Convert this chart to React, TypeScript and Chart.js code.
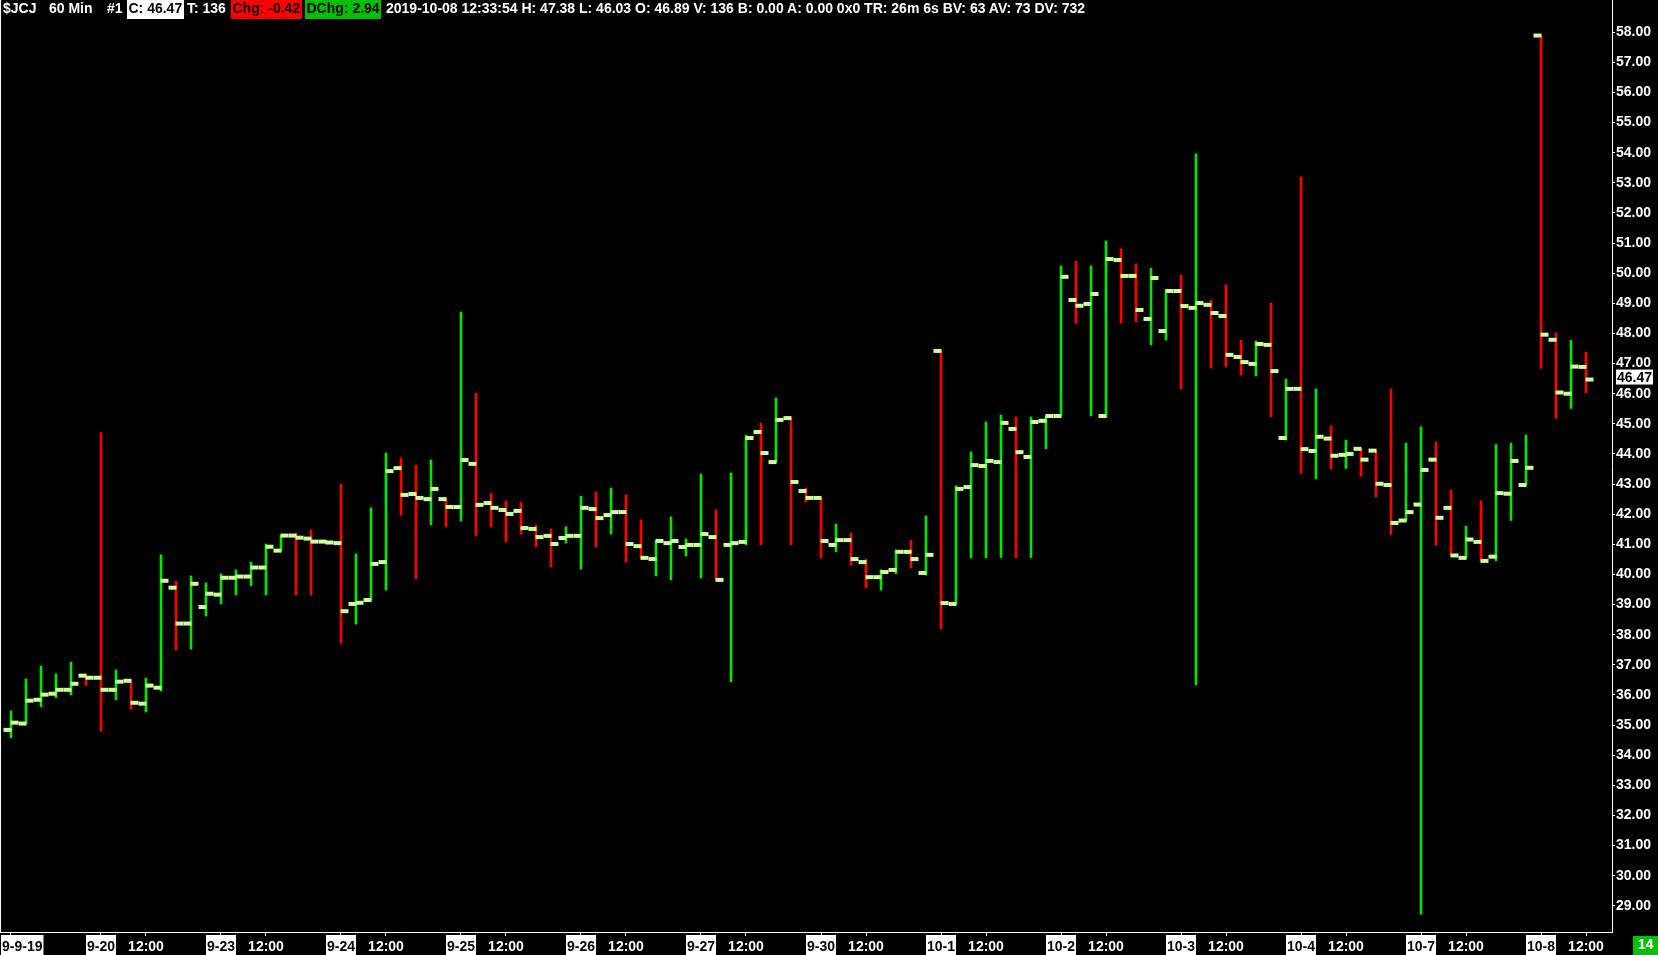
import React, { useEffect, useRef } from 'react';
import { Chart, registerables } from 'chart.js';

Chart.register(...registerables);

// ---- Data (60-min OHLC bars, $JCJ) ----
const opens = [
  34.84, 35.05, 35.84, 36.04, 36.17, 36.64, 36.57, 36.17, 36.47, 35.71,
  36.24, 39.56, 38.37, 38.92, 39.33, 39.89, 39.93, 40.23, 40.79, 41.29,
  41.19, 41.09, 41.04, 39.02, 39.15, 40.41, 43.53, 42.67, 42.50, 42.50,
  42.24, 43.67, 42.37, 42.14, 42.11, 41.51, 41.28, 41.21, 41.28, 42.17,
  41.97, 42.07, 40.94, 40.51, 41.04, 40.91, 40.98, 41.24, 40.98, 41.08,
  44.73, 43.73, 45.19, 42.77, 42.54, 40.98, 41.14, 40.41, 39.91, 40.15,
  40.75, 40.05, 47.42, 39.02, 42.90, 43.60, 43.73, 44.83, 43.90, 45.10,
  45.26, 49.11, 48.98, 45.26, 50.44, 49.91, 48.48, 48.08, 49.41, 48.85,
  48.95, 48.58, 47.22, 46.99, 47.62, 44.53, 46.16, 44.10, 44.51, 43.97,
  44.17, 44.11, 42.97, 41.79, 42.32, 43.81, 42.21, 40.55, 41.08, 40.59,
  42.68, 42.97, 57.89, 47.79, 46.00, 46.89,
];
const highs = [
  35.47, 36.53, 36.96, 36.70, 37.09, 36.64, 44.71, 36.83, 36.47, 36.56,
  40.65, 39.78, 39.95, 39.72, 40.02, 40.15, 40.41, 41.01, 41.29, 41.37,
  41.48, 41.11, 43.00, 40.68, 42.21, 44.03, 43.87, 43.63, 43.80, 42.50,
  48.71, 46.02, 42.70, 42.44, 42.40, 41.64, 41.51, 41.58, 42.60, 42.74,
  42.87, 42.64, 41.81, 41.11, 41.91, 41.18, 43.33, 42.14, 43.37, 44.63,
  45.03, 45.86, 45.19, 42.87, 42.54, 41.67, 41.38, 40.51, 40.15, 40.81,
  41.14, 41.94, 47.42, 42.94, 44.07, 45.06, 45.29, 45.23, 45.23, 45.26,
  50.24, 50.41, 50.24, 51.07, 50.81, 50.31, 50.17, 49.44, 49.94, 53.96,
  49.11, 49.61, 47.78, 47.75, 49.01, 46.49, 53.20, 46.16, 44.93, 44.46,
  44.17, 44.11, 46.15, 44.36, 44.90, 44.40, 42.80, 41.60, 42.44, 44.31,
  44.36, 44.63, 57.89, 48.02, 47.77, 47.38,
];
const lows = [
  34.58, 35.04, 35.61, 35.91, 36.00, 36.31, 34.80, 35.84, 35.53, 35.43,
  36.13, 37.49, 37.52, 38.62, 39.02, 39.32, 39.63, 39.32, 40.79, 39.32,
  39.32, 41.04, 37.72, 38.35, 39.15, 39.48, 41.97, 39.85, 41.64, 41.58,
  41.77, 41.28, 41.58, 41.08, 41.34, 40.91, 40.25, 41.04, 40.18, 40.91,
  41.34, 40.41, 40.55, 39.95, 39.82, 40.61, 39.88, 39.82, 36.44, 40.98,
  40.98, 43.73, 40.98, 42.41, 40.55, 40.75, 40.31, 39.55, 39.48, 40.02,
  40.22, 39.98, 38.19, 39.02, 40.55, 40.55, 40.56, 40.56, 40.56, 44.17,
  45.26, 48.33, 45.26, 45.21, 48.35, 48.38, 47.62, 47.78, 46.16, 36.33,
  46.85, 46.89, 46.62, 46.59, 45.23, 44.46, 43.35, 43.17, 43.50, 43.52,
  43.27, 42.57, 41.33, 41.78, 28.72, 40.97, 40.63, 40.55, 40.45, 40.45,
  41.79, 42.97, 46.84, 45.18, 45.51, 46.03,
];
const closes = [
  35.08, 35.81, 36.01, 36.17, 36.37, 36.57, 36.17, 36.44, 35.74, 36.31,
  39.79, 38.37, 39.69, 39.36, 39.89, 39.93, 40.23, 40.92, 41.29, 41.22,
  41.09, 41.06, 38.78, 39.06, 40.35, 43.43, 42.64, 42.54, 42.84, 42.24,
  43.80, 42.31, 42.21, 42.01, 41.54, 41.24, 41.01, 41.28, 42.21, 41.87,
  42.07, 41.01, 40.55, 41.11, 41.11, 40.98, 41.34, 39.82, 41.04, 44.53,
  44.03, 45.13, 43.07, 42.54, 41.11, 41.14, 40.51, 39.91, 40.08, 40.75,
  40.51, 40.65, 39.05, 42.84, 43.63, 43.77, 45.03, 44.06, 45.06, 45.26,
  49.88, 48.92, 49.31, 50.47, 49.91, 48.78, 49.84, 49.41, 48.91, 49.01,
  48.68, 47.29, 47.05, 47.65, 46.75, 46.16, 44.16, 44.57, 43.94, 44.00,
  43.81, 43.01, 41.71, 42.07, 43.47, 41.88, 40.63, 41.16, 40.45, 42.70,
  43.77, 43.54, 47.96, 46.04, 46.90, 46.47,
];

const xTickIndex = [0, 6, 9, 14, 17, 22, 25, 30, 33, 38, 41, 46, 49, 54, 57, 62, 65, 70, 73, 78, 81, 86, 89, 94, 97, 102, 105];
const xTickLabels = [
  '9-9-19', '9-20', '12:00', '9-23', '12:00', '9-24', '12:00', '9-25', '12:00',
  '9-26', '12:00', '9-27', '12:00', '9-30', '12:00', '10-1', '12:00', '10-2', '12:00',
  '10-3', '12:00', '10-4', '12:00', '10-7', '12:00', '10-8', '12:00',
];
const yTicks = [29, 30, 31, 32, 33, 34, 35, 36, 37, 38, 39, 40, 41, 42, 43, 44, 45, 46, 47, 48, 49, 50, 51, 52, 53, 54, 55, 56, 57, 58];

const headerSegments = [
  { text: '$JCJ', x: 3 },
  { text: '60 Min', x: 49 },
  { text: '#1', x: 107 },
  { text: 'C: 46.47', x: 127, bg: '#ffffff', fg: '#000000' },
  { text: 'T: 136', x: 187 },
  { text: 'Chg: -0.42', x: 231, bg: '#ff0000', fg: '#000000' },
  { text: 'DChg: 2.94', x: 305, bg: '#00c000', fg: '#000000' },
  { text: '2019-10-08 12:33:54 H: 47.38 L: 46.03 O: 46.89 V: 136 B: 0.00 A: 0.00 0x0 TR: 26m 6s BV: 63 AV: 73 DV: 732', x: 386 },
];
const barCountLabel = '14';

// ---- Styles ----
const FONT = '"Liberation Sans", Arial, sans-serif';
const UP = '#00e800';
const DOWN = '#ff0000';
const TICK = '#ccff99';
const W = 1658;
const H = 955;

const overlayPlugin = {
  id: 'overlay',
  afterDraw(chart: any) {
    const ctx = chart.ctx as CanvasRenderingContext2D;
    const xs = chart.scales.x;
    const ys = chart.scales.y;
    const area = chart.chartArea;
    ctx.save();
    // left frame line
    ctx.fillStyle = '#ffffff';
    ctx.fillRect(area.left, area.top, 1, area.bottom - area.top);
    // x labels
    ctx.font = `bold 14px ${FONT}`;
    ctx.textBaseline = 'alphabetic';
    ctx.textAlign = 'left';
    xTickIndex.forEach((idx, k) => {
      const label = xTickLabels[k];
      const px = xs.getPixelForValue(idx);
      const w = ctx.measureText(label).width;
      let left = px - w / 2;
      if (left < 2) left = 2;
      const isDate = label.indexOf(':') < 0;
      if (isDate) {
        ctx.fillStyle = '#ffffff';
        ctx.fillRect(left - 1, area.bottom + 3, w + 2, 20);
        ctx.fillStyle = '#000000';
      } else {
        ctx.fillStyle = '#ffffff';
      }
      ctx.fillText(label, left, area.bottom + 19);
    });
    // last price marker
    const last = closes[closes.length - 1];
    const py = ys.getPixelForValue(last);
    const txt = last.toFixed(2);
    const tw = ctx.measureText(txt).width;
    ctx.fillStyle = '#ffffff';
    ctx.fillRect(ys.left + 4, py - 10, tw + 2, 15);
    ctx.fillStyle = '#000000';
    ctx.fillText(txt, ys.left + 5, py + 2.5);
    ctx.restore();
  },
};

export default function App() {
  const ref = useRef<HTMLCanvasElement>(null);

  useEffect(() => {
    document.body.style.margin = '0';
    document.body.style.background = '#000';
    const canvas = ref.current!;
    const n = opens.length;
    const idx = opens.map((_, i) => i);

    const chart = new Chart(canvas, {
      type: 'bar',
      data: {
        datasets: [
          {
            type: 'line',
            label: 'Open',
            data: idx.map((i) => ({ x: i - 0.233, y: opens[i] })),
            showLine: false,
            pointStyle: 'line',
            pointRadius: 4,
            pointBorderWidth: 4,
            pointBorderColor: TICK,
            pointBackgroundColor: TICK,
            order: 0,
          } as any,
          {
            type: 'line',
            label: 'Close',
            data: idx.map((i) => ({ x: i + 0.233, y: closes[i] })),
            showLine: false,
            pointStyle: 'line',
            pointRadius: 4,
            pointBorderWidth: 4,
            pointBorderColor: TICK,
            pointBackgroundColor: TICK,
            order: 0,
          } as any,
          {
            type: 'bar',
            label: 'Range',
            data: idx.map((i) => ({ x: i, y: [lows[i], highs[i]] })),
            backgroundColor: idx.map((i) => (closes[i] >= opens[i] ? UP : DOWN)),
            borderWidth: 0,
            barThickness: 2,
            order: 1,
          } as any,
        ],
      },
      options: {
        responsive: false,
        maintainAspectRatio: false,
        animation: false,
        devicePixelRatio: 1,
        events: [],
        layout: { padding: 0, autoPadding: false },
        plugins: { legend: { display: false }, tooltip: { enabled: false } },
        scales: {
          x: {
            type: 'linear',
            min: -0.7333,
            max: n + 0.7333,
            offset: false,
            afterBuildTicks: (s: any) => {
              s.ticks = xTickIndex.map((v) => ({ value: v }));
            },
            afterFit: (s: any) => {
              s.height = 23;
              s.paddingLeft = 0;
              s.paddingRight = 0;
            },
            grid: { drawOnChartArea: false, color: '#ffffff', tickLength: 4, offset: false },
            border: { color: '#ffffff', width: 1 },
            ticks: { autoSkip: false, maxRotation: 0, callback: () => '' },
          },
          y: {
            type: 'linear',
            position: 'right',
            min: 28.13,
            max: 59.07,
            afterBuildTicks: (s: any) => {
              s.ticks = yTicks.map((v) => ({ value: v }));
            },
            afterFit: (s: any) => {
              s.width = 46;
              s.paddingTop = 0;
              s.paddingBottom = 0;
            },
            grid: { drawOnChartArea: false, color: '#ffffff', tickLength: 3 },
            border: { color: '#ffffff', width: 1 },
            ticks: {
              color: '#ffffff',
              padding: 1,
              autoSkip: false,
              font: { family: FONT, size: 14, weight: 'bold' },
              callback: (v: any) => Number(v).toFixed(2),
            },
          },
        },
      } as any,
      plugins: [overlayPlugin],
    });
    return () => chart.destroy();
  }, []);

  return (
    <div style={{ position: 'fixed', left: 0, top: 0, width: W, height: H, background: '#000', overflow: 'hidden' }}>
      <canvas ref={ref} width={W} height={H} style={{ position: 'absolute', left: 0, top: 0, width: W, height: H, display: 'block' }} />
      {headerSegments.map((s, i) => (
        <span
          key={i}
          style={{
            position: 'absolute',
            left: s.x,
            top: 0,
            height: 19,
            lineHeight: '19px',
            padding: s.bg ? '0 1.5px' : 0,
            background: s.bg || 'transparent',
            color: s.fg || '#ffffff',
            font: `bold 14px ${FONT}`,
            whiteSpace: 'pre',
          }}
        >
          {s.text}
        </span>
      ))}
      <div
        style={{
          position: 'absolute',
          left: 1633,
          top: 936,
          width: 25,
          height: 19,
          lineHeight: '19px',
          background: '#00c000',
          color: '#ffffff',
          textAlign: 'center',
          font: `bold 14px ${FONT}`,
        }}
      >
        {barCountLabel}
      </div>
    </div>
  );
}
